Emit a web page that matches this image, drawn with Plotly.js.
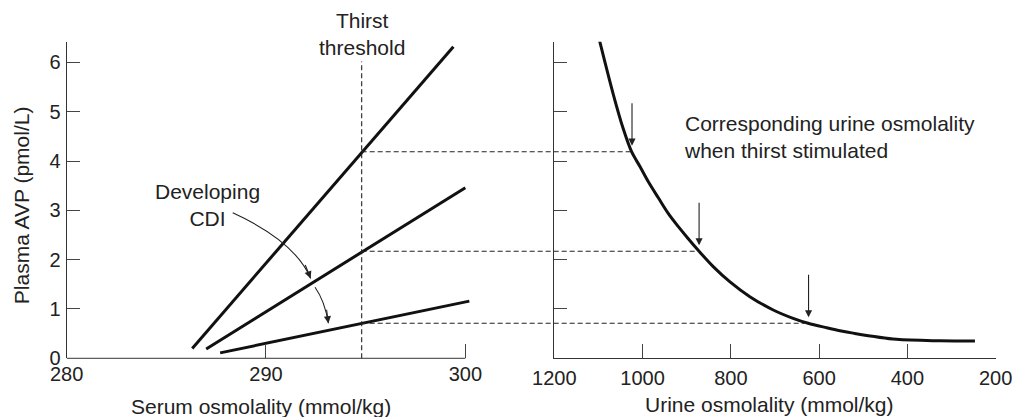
<!DOCTYPE html>
<html><head><meta charset="utf-8">
<script src="https://cdn.plot.ly/plotly-3.0.1.min.js"></script>
<style>html,body{margin:0;padding:0;background:#fff}#chart{width:1016px;height:417px}</style>
</head><body><div id="chart"></div>
<script>
// ---- Data ----
// Left panel: plasma AVP vs serum osmolality
const serumNormal = [286.3, 299.4];
const avpNormal = [0.20, 6.32];
const serumPartial = [287.0, 300.0];
const avpPartial = [0.19, 3.46];
const serumSevere = [287.7, 300.2];
const avpSevere = [0.11, 1.16];

const thirstThreshold = 294.8;
const thirstTop = 6.02;
const avpAtThreshold = [4.19, 2.17, 0.71];
const urineAtThreshold = [1024, 872, 624];

// Right panel: plasma AVP vs urine osmolality
const urineOsm = [1098, 1066, 1044, 1025, 1006, 987, 964, 942, 919, 897, 872, 840, 802, 757, 704, 659, 625, 583, 553, 523, 425, 326, 247];
const urineAvp = [6.46, 5.34, 4.66, 4.19, 3.89, 3.58, 3.25, 2.94, 2.67, 2.43, 2.17, 1.86, 1.55, 1.25, 0.98, 0.81, 0.71, 0.62, 0.56, 0.51, 0.385, 0.355, 0.35];

const serumTicks = [280, 290, 300];
const urineTicks = [1200, 1000, 800, 600, 400, 200];
const avpTicks = [0, 1, 2, 3, 4, 5, 6];
const avpTicksRight = [1, 2, 3, 4, 5, 6];

// ---- Layout geometry ----
const FONT = 'Liberation Sans, Arial, Helvetica, sans-serif';
const INK = '#222';
const AX = '#333';
const xDomL = [0.0656, 0.4639], xRangeL = [280, 300.3];
const xDomR = [0.5456, 0.9800], xRangeR = [1200, 200];
const yDom = [0.1408, 0.8998], yRange = [0, 6.42];
function toPaper(v, range, dom) {
  return dom[0] + (v - range[0]) / (range[1] - range[0]) * (dom[1] - dom[0]);
}

const thick = {color: '#111', width: 3};
const traces = [
  {x: serumNormal, y: avpNormal, xaxis: 'x', yaxis: 'y', mode: 'lines', line: thick, hoverinfo: 'skip'},
  {x: serumPartial, y: avpPartial, xaxis: 'x', yaxis: 'y', mode: 'lines', line: thick, hoverinfo: 'skip'},
  {x: serumSevere, y: avpSevere, xaxis: 'x', yaxis: 'y', mode: 'lines', line: thick, hoverinfo: 'skip'},
  {x: urineOsm, y: urineAvp, xaxis: 'x2', yaxis: 'y2', mode: 'lines',
   line: {color: '#111', width: 3, shape: 'spline', smoothing: 0.9}, hoverinfo: 'skip'}
];

const tickFont = {family: FONT, size: 20, color: INK};
const textFont = {family: FONT, size: 21, color: INK};
const dash = {color: '#222', width: 1.1, dash: '5px,3px'};

const shapes = [
  // left x baseline (ends at 300)
  {type: 'line', xref: 'x', yref: 'paper', x0: 280, x1: 300, y0: yDom[0], y1: yDom[0], line: {color: AX, width: 1}},
  // thirst threshold
  {type: 'line', xref: 'x', yref: 'y', x0: thirstThreshold, x1: thirstThreshold, y0: 0, y1: thirstTop, line: dash},
  // curved "Developing CDI" arrows
  {type: 'path', xref: 'x', yref: 'y', path: 'M 288.33,2.95 Q 291.455,2.375 292.24,1.62', line: {color: INK, width: 1.1}},
  {type: 'path', xref: 'x', yref: 'y', path: 'M 292.46,1.44 Q 292.945,1.165 293.13,0.71', line: {color: INK, width: 1.1}}
];
avpAtThreshold.forEach((v, i) => {
  shapes.push({type: 'line', xref: 'paper', yref: 'y',
    x0: toPaper(thirstThreshold, xRangeL, xDomL),
    x1: toPaper(urineAtThreshold[i], xRangeR, xDomR),
    y0: v, y1: v, line: dash});
});

const annotations = [
  {xref: 'x', yref: 'y', x: thirstThreshold, y: thirstTop, xanchor: 'center', yanchor: 'bottom', showarrow: false,
   text: 'Thirst<br>threshold', font: textFont, yshift: 1},
  {xref: 'x', yref: 'y', x: 287.05, y: 3.10, xanchor: 'center', yanchor: 'middle', showarrow: false,
   text: 'Developing<br>CDI', font: textFont},
  {xref: 'x2', yref: 'y2', x: 911, y: 4.49, xanchor: 'left', yanchor: 'middle', align: 'left', showarrow: false,
   text: 'Corresponding urine osmolality<br>when thirst stimulated', font: textFont},
  // arrowheads for curved arrows
  {xref: 'x', yref: 'y', x: 292.24, y: 1.62, ax: -6, ay: -15, text: '', showarrow: true,
   arrowhead: 2, arrowsize: 1.3, arrowwidth: 1.1, arrowcolor: INK},
  {xref: 'x', yref: 'y', x: 293.13, y: 0.71, ax: -2, ay: -15, text: '', showarrow: true,
   arrowhead: 2, arrowsize: 1.3, arrowwidth: 1.1, arrowcolor: INK},
  // axis titles
  {xref: 'paper', yref: 'paper', x: 0.0207, y: 0.508, xanchor: 'center', yanchor: 'middle', textangle: -90,
   showarrow: false, text: 'Plasma AVP (pmol/L)', font: textFont},
  {xref: 'paper', yref: 'paper', x: 0.257, y: 0.026, xanchor: 'center', yanchor: 'middle', showarrow: false,
   text: 'Serum osmolality (mmol/kg)', font: textFont},
  {xref: 'paper', yref: 'paper', x: 0.7574, y: 0.030, xanchor: 'center', yanchor: 'middle', showarrow: false,
   text: 'Urine osmolality (mmol/kg)', font: textFont}
];
avpAtThreshold.forEach((v, i) => {
  annotations.push({xref: 'x2', yref: 'y2', x: urineAtThreshold[i], y: v, ax: 0, ay: -50, standoff: 6,
    text: '', showarrow: true, arrowhead: 2, arrowsize: 1.3, arrowwidth: 1.1, arrowcolor: INK});
});

const common = {showgrid: false, zeroline: false, fixedrange: true, ticks: 'inside', tickwidth: 1,
  tickcolor: '#444', linecolor: AX, linewidth: 1, tickfont: tickFont, automargin: false};

const layout = {
  width: 1016, height: 417,
  margin: {l: 0, r: 0, t: 0, b: 0},
  paper_bgcolor: '#fff', plot_bgcolor: '#fff',
  showlegend: false,
  font: {family: FONT, color: INK},
  xaxis: Object.assign({}, common, {domain: xDomL, range: xRangeL, anchor: 'y', showline: false,
    ticklen: 14, tickmode: 'array', tickvals: serumTicks, ticktext: serumTicks.map(String), ticklabelstandoff: 2}),
  yaxis: Object.assign({}, common, {domain: yDom, range: yRange, anchor: 'x', showline: true,
    ticklen: 13, tickmode: 'array', tickvals: avpTicks, ticktext: avpTicks.map(String), ticklabelstandoff: 1}),
  xaxis2: Object.assign({}, common, {domain: xDomR, range: xRangeR, anchor: 'y2', showline: true,
    ticklen: 14, tickmode: 'array', tickvals: urineTicks, ticktext: urineTicks.map(String), ticklabelstandoff: 2}),
  yaxis2: Object.assign({}, common, {domain: yDom, range: yRange, anchor: 'x2', showline: true,
    ticklen: 13, tickmode: 'array', tickvals: avpTicksRight, showticklabels: false}),
  shapes: shapes,
  annotations: annotations
};

Plotly.newPlot('chart', traces, layout, {displayModeBar: false, staticPlot: true});
</script>
</body></html>
